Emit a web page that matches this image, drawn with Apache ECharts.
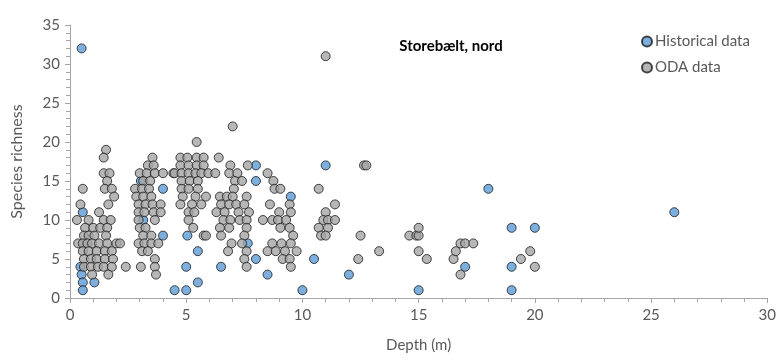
<!DOCTYPE html>
<html>
<head>
<meta charset="utf-8">
<script src="https://cdn.jsdelivr.net/npm/echarts@6/dist/echarts.min.js"></script>
<style>
  html, body { margin: 0; padding: 0; background: #ffffff; }
  #chart { width: 779px; height: 360px; }
</style>
</head>
<body>
<div id="chart"></div>
<script>
// Species richness against depth, Storebælt nord
const chartTitle = 'Storebælt, nord';
const seriesNames = ['Historical data', 'ODA data'];
const xTicks = [0, 5, 10, 15, 20, 25, 30];
const yTicks = [0, 5, 10, 15, 20, 25, 30, 35];

// Historical survey stations: [depth (m), species richness]
const historicalDepth = [0.5, 0.55, 0.45, 0.5, 0.55, 0.55, 1.05, 3.05, 3.15, 4.0, 4.0, 4.5, 5.05, 5.0, 5.0, 5.5, 5.5, 6.5, 7.65, 8.0, 8.0, 8.0, 8.5, 9.5, 10.0, 10.5, 11.0, 12.0, 15.0, 17.0, 18.0, 19.0, 19.0, 19.0, 20.0, 26.0];
const historicalRichness = [32, 11, 4, 3, 2, 1, 2, 15, 10, 14, 8, 1, 8, 4, 1, 6, 2, 4, 7, 17, 15, 5, 3, 13, 1, 5, 17, 3, 1, 4, 14, 9, 4, 1, 9, 11];

// ODA stations: [depth (m), species richness]
const odaDepth = [
  // 0-2.5 m
  1.55, 1.45, 1.45, 1.7, 1.6, 1.5, 1.8, 0.55, 1.9, 1.65, 0.45, 1.25, 0.3, 0.8, 1.45, 1.75,
  0.65, 1.0, 1.3, 1.6, 0.6, 0.8, 1.05, 1.55, 0.35, 0.55, 0.75, 0.95, 1.25, 1.6, 2.0,
  0.55, 0.8, 1.15, 1.5, 1.8, 0.6, 0.9, 1.15, 1.5, 1.85, 0.6, 0.9, 1.2, 1.45, 1.8, 2.4, 0.95, 1.65,
  // 2-4.5 m
  2.15, 3.55, 3.35, 3.6, 3.0, 3.3, 3.65, 4.0, 4.45, 3.15, 3.45, 2.8, 3.1, 3.4, 2.85, 3.15, 3.5,
  2.95, 3.25, 3.55, 3.9, 2.95, 3.2, 3.6, 3.9, 2.95, 3.65, 3.0, 3.25, 3.15, 3.5, 2.95, 3.2, 3.5, 3.8,
  3.1, 3.35, 3.65, 3.05, 3.65, 3.7,
  // 4.5-6 m
  5.45, 4.75, 5.05, 5.45, 5.75, 4.75, 5.1, 5.45, 5.75, 4.5, 4.8, 5.1, 5.4, 5.65, 5.95, 4.8, 5.15, 5.5,
  4.8, 5.1, 5.5, 4.85, 5.4, 5.85, 4.75, 5.25, 5.65, 5.1, 5.35, 5.1, 5.3, 5.75, 5.85,
  // 6-8 m
  7.0, 6.4, 6.9, 7.65, 6.25, 6.85, 7.2, 7.1, 7.4, 7.05, 6.45, 6.75, 7.0, 7.6, 6.5, 6.85, 7.15, 7.5,
  6.3, 6.65, 7.25, 7.7, 6.6, 6.9, 7.3, 7.6, 6.45, 6.85, 7.6, 6.5, 7.5, 6.95, 7.4, 6.8, 7.6, 7.5, 7.6,
  // 8-10 m
  8.5, 8.75, 8.8, 9.05, 8.6, 9.45, 9.0, 9.5, 8.3, 8.7, 8.95, 9.3, 9.05, 9.45, 9.6, 8.7, 9.1, 9.5,
  8.5, 8.85, 9.25, 9.75, 9.15, 9.45, 9.5,
  // 10-13.5 m
  11.0, 12.65, 12.75, 10.7, 11.4, 11.0, 10.9, 11.1, 11.4, 10.7, 11.1, 10.8, 11.0, 12.5, 12.4, 13.3,
  // 14-20 m
  14.6, 14.9, 15.0, 15.0, 15.0, 15.35, 16.5, 16.6, 16.8, 17.0, 17.35, 16.8, 19.4, 19.8, 20.0
];
const odaRichness = [
  19, 18, 16, 16, 15, 14, 14, 14, 13, 12, 12, 11, 10, 10, 10, 10,
  9, 9, 9, 9, 8, 8, 8, 8, 7, 7, 7, 7, 7, 7, 7,
  6, 6, 6, 6, 6, 5, 5, 5, 5, 5, 4, 4, 4, 4, 4, 4, 3, 3,
  7, 18, 17, 17, 16, 16, 16, 16, 16, 15, 15, 14, 14, 14, 13, 13, 13,
  12, 12, 12, 12, 11, 11, 11, 11, 10, 10, 9, 9, 8, 8, 7, 7, 7, 7,
  6, 6, 5, 4, 4, 3,
  20, 18, 18, 18, 18, 17, 17, 17, 17, 16, 16, 16, 16, 16, 16, 15, 15, 15,
  14, 14, 14, 13, 13, 13, 12, 12, 12, 11, 11, 10, 9, 8, 8,
  22, 18, 17, 17, 16, 16, 16, 15, 15, 14, 13, 13, 13, 13, 12, 12, 12, 12,
  11, 11, 11, 11, 10, 10, 10, 10, 9, 9, 9, 8, 8, 7, 7, 6, 6, 5, 4,
  16, 15, 14, 14, 12, 12, 11, 11, 10, 10, 10, 10, 9, 9, 8, 7, 7, 7,
  6, 6, 6, 6, 5, 5, 4,
  31, 17, 17, 14, 12, 11, 10, 10, 10, 9, 9, 8, 8, 8, 5, 6,
  8, 8, 8, 9, 6, 5, 5, 6, 7, 7, 7, 3, 5, 6, 4
];

const pairs = (xs, ys) => xs.map((x, i) => [x, ys[i]]);

const textColor = '#595959';
const axisColor = '#a6a6a6';
const fontFamily = 'Lato, "Open Sans", sans-serif';

const chart = echarts.init(document.getElementById('chart'), null, { renderer: 'canvas' });

chart.setOption({
  animation: false,
  backgroundColor: '#ffffff',
  textStyle: { fontFamily: fontFamily },
  title: {
    text: chartTitle,
    left: 446,
    top: 34,
    textAlign: 'center',
    textStyle: { fontSize: 15, fontWeight: 'bold', color: '#000000', fontFamily: fontFamily }
  },
  legend: {
    orient: 'vertical',
    left: 636,
    top: 29,
    itemWidth: 10,
    itemHeight: 10,
    itemGap: 11,
    icon: 'circle',
    textStyle: { fontSize: 15, color: textColor, fontFamily: fontFamily, padding: [0, 0, 0, -2] },
    data: seriesNames
  },
  grid: { left: 70, right: 11, top: 25, bottom: 62, containLabel: false },
  xAxis: {
    type: 'value',
    min: xTicks[0],
    max: xTicks[xTicks.length - 1],
    interval: 5,
    name: 'Depth (m)',
    nameLocation: 'middle',
    nameGap: 40,
    nameTextStyle: { fontSize: 15, color: textColor },
    axisLine: { show: true, lineStyle: { color: axisColor, width: 1 } },
    axisTick: { show: true, length: 5, lineStyle: { color: axisColor } },
    minorTick: { show: true, splitNumber: 5, length: 4, lineStyle: { color: axisColor } },
    axisLabel: { fontSize: 15, color: textColor, margin: 10 },
    splitLine: { show: false }
  },
  yAxis: {
    type: 'value',
    min: yTicks[0],
    max: yTicks[yTicks.length - 1],
    interval: 5,
    name: 'Species richness',
    nameLocation: 'middle',
    nameGap: 45,
    nameTextStyle: { fontSize: 16, color: textColor },
    axisLine: { show: true, lineStyle: { color: axisColor, width: 1 } },
    axisTick: { show: true, length: 5, lineStyle: { color: axisColor } },
    minorTick: { show: true, splitNumber: 5, length: 4, lineStyle: { color: axisColor } },
    axisLabel: { fontSize: 15, color: textColor, margin: 10 },
    splitLine: { show: false }
  },
  series: [
    {
      name: seriesNames[0],
      type: 'scatter',
      symbol: 'circle',
      symbolSize: 9,
      itemStyle: { color: '#5b9bd5', borderColor: '#1a1a1a', borderWidth: 1 },
      data: pairs(historicalDepth, historicalRichness)
    },
    {
      name: seriesNames[1],
      type: 'scatter',
      symbol: 'circle',
      symbolSize: 9,
      itemStyle: { color: '#a5a5a5', borderColor: '#1a1a1a', borderWidth: 1 },
      data: pairs(odaDepth, odaRichness)
    }
  ]
});
</script>
</body>
</html>
